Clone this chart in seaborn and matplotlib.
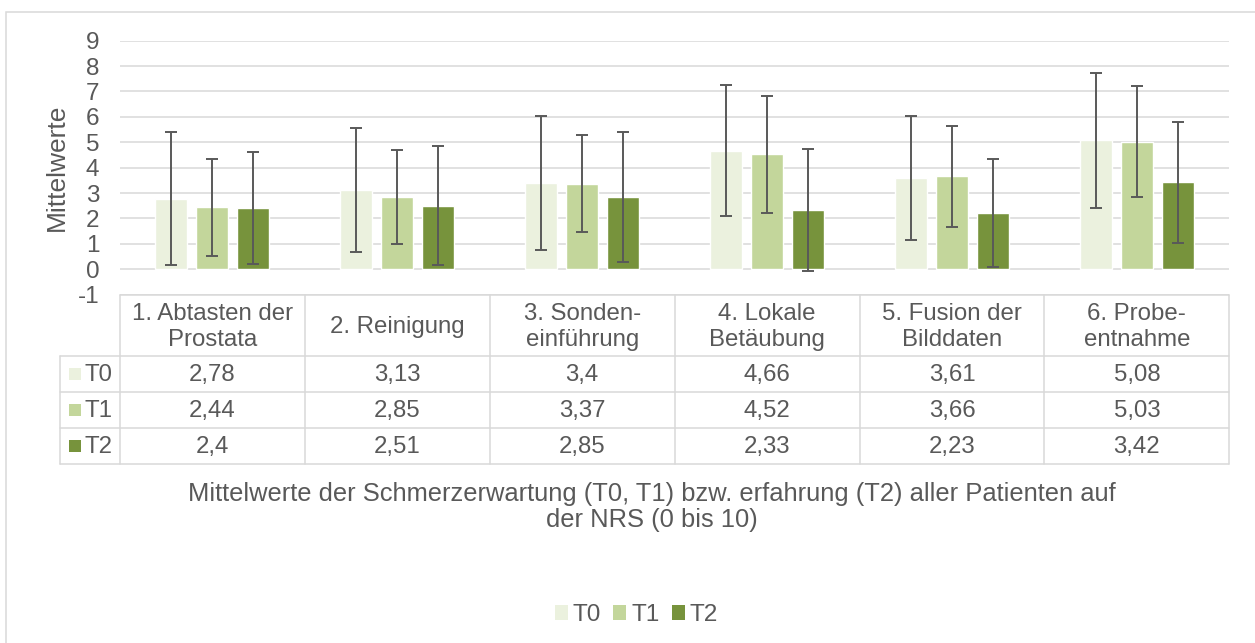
import matplotlib
matplotlib.use("Agg")
import matplotlib.pyplot as plt
from matplotlib.patches import Patch, Rectangle
import pandas as pd
import seaborn as sns

# chart values
steps = [
    "1. Abtasten der\nProstata",
    "2. Reinigung",
    "3. Sonden-\neinführung",
    "4. Lokale\nBetäubung",
    "5. Fusion der\nBilddaten",
    "6. Probe-\nentnahme",
]
series = ["T0", "T1", "T2"]
t0_mean = [2.78, 3.13, 3.40, 4.66, 3.61, 5.08]
t1_mean = [2.44, 2.85, 3.37, 4.52, 3.66, 5.03]
t2_mean = [2.40, 2.51, 2.85, 2.33, 2.23, 3.42]
# standard deviations
t0_sd = [2.63, 2.43, 2.65, 2.58, 2.44, 2.65]
t1_sd = [1.90, 1.86, 1.90, 2.32, 1.98, 2.18]
t2_sd = [2.20, 2.34, 2.57, 2.40, 2.13, 2.38]
table_text = [
    ["2,78", "3,13", "3,4", "4,66", "3,61", "5,08"],
    ["2,44", "2,85", "3,37", "4,52", "3,66", "5,03"],
    ["2,4", "2,51", "2,85", "2,33", "2,23", "3,42"],
]
x_title = ("Mittelwerte der Schmerzerwartung (T0, T1) bzw. erfahrung (T2) aller Patienten auf\n"
           "der NRS (0 bis 10)")
y_title = "Mittelwerte"

colors = ["#EBF1DE", "#C3D69B", "#77933C"]
grey = "#595959"
line_grey = "#D9D9D9"

sns.set_theme(style="white")
plt.rcParams["font.family"] = ["Liberation Sans", "DejaVu Sans"]
plt.rcParams["axes.unicode_minus"] = False

W, H = 1255, 643
fig = plt.figure(figsize=(W / 100, H / 100), dpi=100)

# plot area in pixels
px_left, px_right = 120, 1229.3
px_top, px_bottom = 40.7, 294.7
ax = fig.add_axes([px_left / W, 1 - px_bottom / H, (px_right - px_left) / W, (px_bottom - px_top) / H])

means = [t0_mean, t1_mean, t2_mean]
sds = [t0_sd, t1_sd, t2_sd]
df = pd.DataFrame({
    "step": [s for _ in series for s in steps],
    "series": [name for name in series for _ in steps],
    "mean": [v for m in means for v in m],
})

sns.barplot(data=df, x="step", y="mean", hue="series", order=steps, hue_order=series,
            palette=colors, width=0.666, gap=0.22, errorbar=None, legend=False,
            saturation=1, ax=ax)

for container, m, s in zip(ax.containers, means, sds):
    xs = [p.get_x() + p.get_width() / 2 for p in container.patches]
    ax.errorbar(xs, m, yerr=s, fmt="none", ecolor=grey, elinewidth=1.4,
                capsize=4, capthick=1.4, zorder=5)

ax.set_ylim(-1, 9)
ax.set_xlim(-0.5, len(steps) - 0.5)
ax.set_yticks(range(-1, 10))
ax.set_xticks([])
ax.set_xlabel("")
ax.set_ylabel(y_title, fontsize=19, color=grey, labelpad=6)
ax.tick_params(axis="y", length=0, pad=15, labelsize=17.5, labelcolor=grey)
ax.yaxis.grid(True, color=line_grey, lw=1.1)
ax.set_axisbelow(True)
for sp in ax.spines.values():
    sp.set_visible(False)

# data table below the plot area
tb_top, tb_bottom = 294.7, 464
tax = fig.add_axes([px_left / W, 1 - tb_bottom / H, (px_right - px_left) / W, (tb_bottom - tb_top) / H])
tax.set_xlim(-0.5, len(steps) - 0.5)
tax.set_ylim(tb_bottom - tb_top, 0)
tax.axis("off")
header_h = 61.3
row_h = (tb_bottom - tb_top - header_h) / len(series)
col_px = (px_right - px_left) / len(steps)
label_left = -0.5 - 60 / col_px
total_h = tb_bottom - tb_top

lk = dict(color=line_grey, lw=1.1, clip_on=False)
tax.plot([-0.5, len(steps) - 0.5], [0, 0], **lk)
for r in range(len(series) + 1):
    y = header_h + r * row_h
    tax.plot([label_left, len(steps) - 0.5], [y, y], **lk)
for c in range(len(steps) + 1):
    tax.plot([c - 0.5, c - 0.5], [0, total_h], **lk)
tax.plot([label_left, label_left], [header_h, total_h], **lk)

for c, step in enumerate(steps):
    tax.text(c, header_h / 2 + 2, step, ha="center", va="center", fontsize=17.3,
             color=grey, linespacing=1.25)
for r, name in enumerate(series):
    yc = header_h + (r + 0.5) * row_h
    for c in range(len(steps)):
        tax.text(c, yc + 1, table_text[r][c], ha="center", va="center", fontsize=17.3, color=grey)
    tax.add_patch(Rectangle((label_left + 8.5 / col_px, yc - 6.2), 12.5 / col_px, 12.5,
                            facecolor=colors[r], edgecolor="none", clip_on=False))
    tax.text(label_left + 24 / col_px, yc + 1, name, ha="left", va="center", fontsize=17.3, color=grey)

fig.text(652 / W, 1 - 507 / H, x_title, ha="center", va="center", fontsize=18.4,
         color=grey, linespacing=1.15)

handles = [Patch(facecolor=c, edgecolor="none", label=n) for c, n in zip(colors, series)]
fig.legend(handles=handles, loc="center", bbox_to_anchor=(636.5 / W, 1 - 615 / H), ncol=3,
           frameon=False, fontsize=17.6, handlelength=0.53, handleheight=0.53,
           handletextpad=0.2, columnspacing=0.5, labelcolor=grey)

fig.add_artist(Rectangle((6 / W, -0.05), 2, 1.05 - 12 / H, transform=fig.transFigure,
                         fill=False, edgecolor=line_grey, lw=1.1))

fig.savefig("out.png", dpi=100)
